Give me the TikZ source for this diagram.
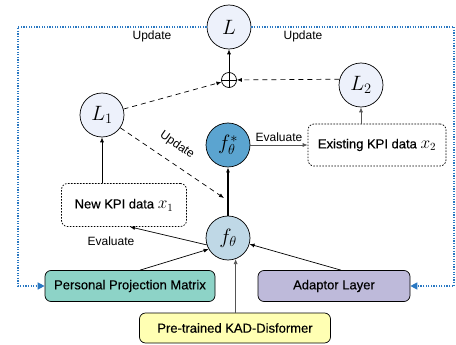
\documentclass[tikz,border=0pt]{standalone}
\usepackage{fontspec}
\setmainfont{Liberation Sans}
\newfontfamily\medfont{Liberation Sans}[FakeBold=0.35]
\usetikzlibrary{arrows.meta,calc}
\definecolor{lossfill}{HTML}{EDF1FB}
\definecolor{fstarfill}{HTML}{5BA4D0}
\definecolor{ffill}{HTML}{BFD8E6}
\definecolor{ppmfill}{HTML}{8DD3C7}
\definecolor{adaptfill}{HTML}{BEBADA}
\definecolor{pretfill}{HTML}{FFFFB3}
\definecolor{updblue}{HTML}{2A78C2}
\definecolor{evalgray}{HTML}{555555}
\begin{document}
\begin{tikzpicture}[x=1pt,y=-1pt,
  txt/.style={font=\fontsize{12}{14}\selectfont},
  btxt/.style={font=\fontsize{13}{15}\selectfont\medfont},
  circ/.style={circle,draw,line width=0.7pt,minimum size=44pt,inner sep=0pt,font=\fontsize{20}{22}\selectfont},
  lossc/.style={circ,fill=lossfill},
  databox/.style={draw,rounded corners=6pt,line width=0.7pt,dash pattern=on 1.6pt off 1.4pt,btxt,inner sep=0pt},
  modbox/.style={draw,rounded corners=6pt,line width=0.7pt,btxt,inner sep=0pt},
  arr/.style={-{Latex[length=5pt,width=4pt]},line width=0.7pt},
  darr/.style={arr,dash pattern=on 5pt off 4pt},
  upd/.style={updblue,line width=1.4pt,dash pattern=on 1.2pt off 1.4pt,-{Triangle[length=7pt,width=7pt]}}
]
\useasboundingbox (0,0) rectangle (456,345);

\node[lossc] (L) at (229,27) {$L$};
\node[circle,draw,line width=0.7pt,minimum size=15pt,inner sep=0pt] (plus) at (229,80) {};
\draw[line width=0.7pt] (plus.north) -- (plus.south) (plus.west) -- (plus.east);
\node[lossc] (L1) at (102,115) {$L_1$};
\node[lossc] (L2) at (361,85) {$L_2$};
\node[circ,fill=fstarfill] (fs) at (228,145) {$f_\theta^*$};
\node[circ,fill=ffill] (f) at (228,238) {$f_\theta$};

\node[databox,minimum width=138pt,minimum height=42pt] (ex) at (377,145) {Existing KPI data {\fontsize{16}{16}\selectfont$x_2$}};
\node[databox,minimum width=125pt,minimum height=43pt] (nw) at (124,205) {New KPI data {\fontsize{16}{16}\selectfont$x_1$}};

\node[modbox,fill=ppmfill,minimum width=170pt,minimum height=31pt] (ppm) at (130,286) {Personal Projection Matrix};
\node[modbox,fill=adaptfill,minimum width=152pt,minimum height=31pt] (ad) at (334,286) {Adaptor Layer};
\node[modbox,fill=pretfill,minimum width=191pt,minimum height=30pt] (pre) at (235,328) {Pre-trained KAD-Disformer};

\coordinate (lx) at (18,0);
\coordinate (rx) at (454,0);
\draw[upd] (L.west) -- (L.west -| lx) |- (ppm.west);
\draw[upd] (L.east) -- (L.east -| rx) |- (ad.east);
\node[txt] (u1) at (152,36) {Update};
\node[txt] (u2) at (303,36) {Update};

\draw[arr] (plus) -- (L);
\draw[darr] (L1) -- (plus);
\draw[darr] (L2.165) -- (plus);
\coordinate (ut) at (224,198);
\draw[darr] (L1.-35) -- (ut);
\node[txt,rotate=-35] (u3) at (177,145) {Update};

\draw[arr,line width=1.6pt] (f) -- (fs);
\draw[arr,evalgray] (fs) -- node[txt,above,black] (e2) {Evaluate} (ex);
\draw[arr,evalgray] (ex.north -| L2) -- (L2);
\draw[arr] (nw.north -| L1) -- (L1);

\draw[arr] (f.198) -- ([xshift=6pt]nw.south);
\node[txt] (e1) at (111,241) {Evaluate};
\draw[arr] ([xshift=10pt]ppm.north) -- (f.210);
\draw[arr] ([xshift=7pt]ad.north) -- (f);
\draw[arr,evalgray] (f.-70 |- pre.north) -- (f.-70);
\end{tikzpicture}
\end{document}
